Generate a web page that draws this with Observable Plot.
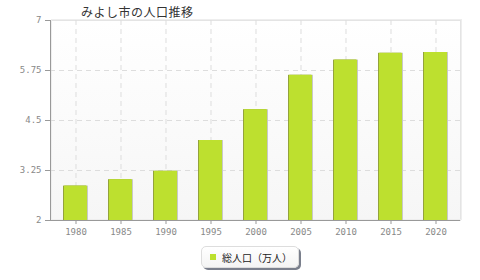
<!DOCTYPE html>
<html><head><meta charset="utf-8">
<script src="https://cdn.jsdelivr.net/npm/d3@7"></script>
<script src="https://cdn.jsdelivr.net/npm/@observablehq/plot@0.6"></script>
<style>
body{margin:0;background:#fff;width:480px;height:280px;overflow:hidden;position:relative;font-family:"Noto Sans CJK JP",sans-serif;}
#title{position:absolute;left:81px;top:3px;font-size:12px;color:#333;letter-spacing:0.5px;}
#legend{position:absolute;left:201px;top:246px;width:96px;height:20px;border:1px solid #ddd;border-radius:5px;background:linear-gradient(#fff,#f4f4f4);box-shadow:2px 2px 0 #7a7f8c;font-size:10px;color:#222;display:flex;align-items:center;}
#legend .sw{width:6px;height:6px;background:#bce02e;margin-left:8px;margin-right:6px;}
#chart{position:absolute;left:0;top:0;}
</style></head>
<body>
<div id="chart"></div>
<div id="title">みよし市の人口推移</div>
<div id="legend"><span class="sw"></span><span>総人口（万人）</span></div>
<script>
const years = ["1980","1985","1990","1995","2000","2005","2010","2015","2020"];
const population = [2.86, 3.02, 3.23, 4.00, 4.77, 5.63, 6.01, 6.18, 6.20];
const yTicks = [2, 3.25, 4.5, 5.75, 7];
const baseline = 2;

const data = years.map((y, i) => ({year: y, value: population[i]}));
const mono = "DejaVu Sans Mono, monospace";

const chart = Plot.plot({
  width: 480, height: 280,
  marginLeft: 50, marginRight: 20, marginTop: 20, marginBottom: 60,
  x: {type: "band", domain: years, paddingInner: 0.5, paddingOuter: 0.25, label: null},
  y: {domain: [2, 7], label: null},
  style: {fontFamily: mono, fontSize: "9px", color: "#888", background: "transparent"},
  marks: [
    Plot.frame({fill: "url(#bgGrad)", stroke: "#e4e4e4", strokeWidth: 1}),
    Plot.frame({stroke: "#eeeeee", dx: 1, dy: -1}),
    Plot.gridY(yTicks.slice(1, -1), {stroke: "#dddddd", strokeOpacity: 1, strokeDasharray: "5,4"}),
    Plot.ruleX(years, {x: d => d, stroke: "#dddddd", strokeDasharray: "5,4"}),
    Plot.barY(data, {x: "year", y1: baseline, y2: "value", fill: "#c8c8c8", dx: 1}),
    Plot.barY(data, {x: "year", y1: baseline, y2: "value", fill: "#94a33c", dx: -1}),
    Plot.barY(data, {x: "year", y1: baseline, y2: "value", fill: "#bde02f"}),
    Plot.ruleY([baseline], {stroke: "#999"}),
    Plot.frame({anchor: "left", stroke: "#999"}),
    Plot.axisY({ticks: yTicks, tickSize: 5, tickPadding: 4, stroke: "#999", fill: "#888", label: null,
      tickFormat: d => String(d)}),
    Plot.axisX({tickSize: 4, tickPadding: 4, stroke: "#999", fill: "#888", label: null})
  ]
});

const defs = d3.select(chart).insert("defs", ":first-child");
const g = defs.append("linearGradient").attr("id", "bgGrad").attr("x1", 0).attr("y1", 0).attr("x2", 0).attr("y2", 1);
g.append("stop").attr("offset", "0%").attr("stop-color", "#ffffff");
g.append("stop").attr("offset", "100%").attr("stop-color", "#f6f6f6");

document.getElementById("chart").appendChild(chart);
</script>
</body></html>
